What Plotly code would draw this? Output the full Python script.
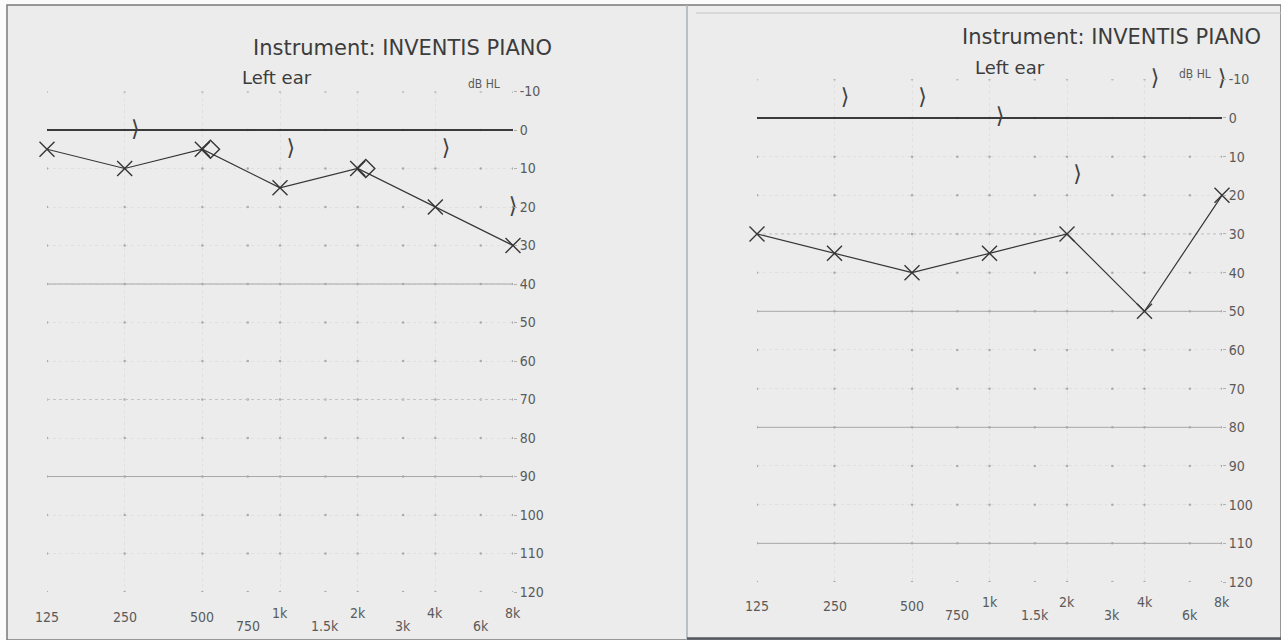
import math
import plotly.graph_objects as go

W, H = 1281, 640

# Audiometric frequencies (Hz) and hearing-level scale (dB HL)
octave_freqs = [125, 250, 500, 1000, 2000, 4000, 8000]
octave_labels = ["125", "250", "500", "1k", "2k", "4k", "8k"]
mid_freqs = [750, 1500, 3000, 6000]
mid_labels = ["750", "1.5k", "3k", "6k"]
db_ticks = list(range(-10, 121, 10))

# First audiogram
p1_air_freq = [125, 250, 500, 1000, 2000, 4000, 8000]
p1_air_db = [5, 10, 5, 15, 10, 20, 30]
p1_diamond_freq = [500, 2000]
p1_diamond_db = [5, 10]
p1_bone_freq = [250, 1000, 4000, 8000]
p1_bone_db = [0, 5, 5, 20]
p1_solid_levels = [40, 90]
p1_dotted_levels = [70]

# Second audiogram
p2_air_freq = [125, 250, 500, 1000, 2000, 4000, 8000]
p2_air_db = [30, 35, 40, 35, 30, 50, 20]
p2_bone_freq = [250, 500, 1000, 2000, 4000, 8000]
p2_bone_db = [-5, -5, 0, 15, -10, -10]
p2_solid_levels = [50, 80, 110]
p2_dotted_levels = [30]

title_text = "Instrument: INVENTIS PIANO"
ear_text = "Left ear"
unit_text = "dB HL"

INK = "#363636"
GRID = "#e0e0e0"
LABEL = "#5a5a5a"
PAPER = "#ececec"

BONE_SHIFT = 1.1      # bone symbols sit just right of the frequency line
DIAMOND_SHIFT = 1.075

# pixel geometry of each panel: x of 125 Hz / 8 kHz, y of -10 / 120 dB
panels = [
    dict(x0=47, x1=513, ytop=91.5, ybot=592, xs="x", ys="y",
         air=(p1_air_freq, p1_air_db), dia=(p1_diamond_freq, p1_diamond_db),
         bone=(p1_bone_freq, p1_bone_db), solid=p1_solid_levels, dotted=p1_dotted_levels,
         title=(402, 48), ear=(277, 78), unit=(484, 84),
         lab_main=617, lab_k=613, lab_mid=626),
    dict(x0=757, x1=1222, ytop=79.3, ybot=582, xs="x2", ys="y2",
         air=(p2_air_freq, p2_air_db), dia=None,
         bone=(p2_bone_freq, p2_bone_db), solid=p2_solid_levels, dotted=p2_dotted_levels,
         title=(1111, 37), ear=(1010, 67), unit=(1195, 74),
         lab_main=606, lab_k=602, lab_mid=615),
]

fig = go.Figure()
annotations = []
shapes = []

# scanned page frame
shapes.append(dict(type="rect", xref="paper", yref="paper", x0=7 / W, x1=1.0,
                   y0=0, y1=1 - 5 / H, fillcolor=PAPER,
                   line=dict(color="#7a7a7a", width=1.5), layer="below"))
shapes.append(dict(type="line", xref="paper", yref="paper", x0=687 / W, x1=687 / W,
                   y0=0, y1=1 - 5 / H, line=dict(color="#a9b1bb", width=1.5), layer="below"))
shapes.append(dict(type="line", xref="paper", yref="paper", x0=696 / W, x1=1.0,
                   y0=1 - 13 / H, y1=1 - 13 / H, line=dict(color="#c4c4c4", width=1), layer="below"))
shapes.append(dict(type="line", xref="paper", yref="paper", x0=687 / W, x1=1.0,
                   y0=1 - 638.5 / H, y1=1 - 638.5 / H, line=dict(color="#555a60", width=2.5), layer="below"))

all_freqs = sorted(octave_freqs + mid_freqs)

for i, p in enumerate(panels):
    xs, ys = p["xs"], p["ys"]
    sfx = "" if i == 0 else "2"

    # intersection dots of the printed grid
    gx, gy = [], []
    for f in all_freqs:
        for d in db_ticks:
            gx.append(f)
            gy.append(d)
    fig.add_trace(go.Scatter(x=gx, y=gy, mode="markers", xaxis=xs, yaxis=ys,
                             marker=dict(size=2.5, color="#ababab"), hoverinfo="skip",
                             showlegend=False))

    # emphasised reference lines
    for lvl in p["solid"]:
        fig.add_trace(go.Scatter(x=[octave_freqs[0], octave_freqs[-1]], y=[lvl, lvl],
                                 mode="lines", xaxis=xs, yaxis=ys,
                                 line=dict(color="#a8a8a8", width=1), hoverinfo="skip",
                                 showlegend=False))
    for lvl in p["dotted"]:
        fig.add_trace(go.Scatter(x=[octave_freqs[0], octave_freqs[-1]], y=[lvl, lvl],
                                 mode="lines", xaxis=xs, yaxis=ys,
                                 line=dict(color="#c4c4c4", width=1, dash="dot"),
                                 hoverinfo="skip", showlegend=False))

    # 0 dB HL reference
    fig.add_trace(go.Scatter(x=[octave_freqs[0], octave_freqs[-1]], y=[0, 0],
                             mode="lines", xaxis=xs, yaxis=ys,
                             line=dict(color="#3a3a3a", width=2), hoverinfo="skip",
                             showlegend=False))

    # air conduction thresholds
    af, ad = p["air"]
    fig.add_trace(go.Scatter(x=af, y=ad, mode="lines+markers", xaxis=xs, yaxis=ys,
                             line=dict(color=INK, width=1.2),
                             marker=dict(symbol="x-thin-open", size=15, color=INK,
                                         line=dict(color=INK, width=1.4)),
                             cliponaxis=False, showlegend=False))

    if p["dia"] is not None:
        df, dd = p["dia"]
        fig.add_trace(go.Scatter(x=[f * DIAMOND_SHIFT for f in df], y=dd, mode="markers",
                                 xaxis=xs, yaxis=ys,
                                 marker=dict(symbol="diamond-open", size=14, color=INK,
                                             line=dict(color=INK, width=1.4)),
                                 cliponaxis=False, showlegend=False))

    # bone conduction thresholds
    bf, bd = p["bone"]
    fig.add_trace(go.Scatter(x=[min(f * BONE_SHIFT, octave_freqs[-1]) for f in bf], y=bd,
                             mode="text", text=["⟩"] * len(bf), xaxis=xs, yaxis=ys,
                             textposition="middle center",
                             textfont=dict(family="DejaVu Sans", size=22, color="#404040"),
                             cliponaxis=False, showlegend=False))

    # frequency labels (annotation x on a log axis is given in log10 units)
    for f, lab in zip(octave_freqs, octave_labels):
        yy = p["lab_k"] if lab.endswith("k") else p["lab_main"]
        annotations.append(dict(x=math.log10(f), y=1 - yy / H, xref=xs, yref="paper", text=lab,
                                showarrow=False, xanchor="center", yanchor="middle",
                                font=dict(family="DejaVu Sans Condensed", size=14, color=LABEL)))
    for f, lab in zip(mid_freqs, mid_labels):
        annotations.append(dict(x=math.log10(f), y=1 - p["lab_mid"] / H, xref=xs, yref="paper",
                                text=lab, showarrow=False, xanchor="center", yanchor="middle",
                                font=dict(family="DejaVu Sans Condensed", size=14, color=LABEL)))

    # headings
    tx, ty = p["title"]
    annotations.append(dict(x=tx / W, y=1 - ty / H, xref="paper", yref="paper", text=title_text,
                            showarrow=False, xanchor="center", yanchor="middle",
                            font=dict(family="DejaVu Sans", size=21, color="#3c3c3c")))
    ex, ey = p["ear"]
    annotations.append(dict(x=ex / W, y=1 - ey / H, xref="paper", yref="paper", text=ear_text,
                            showarrow=False, xanchor="center", yanchor="middle",
                            font=dict(family="DejaVu Sans", size=18, color="#3c3c3c")))
    ux, uy = p["unit"]
    annotations.append(dict(x=ux / W, y=1 - uy / H, xref="paper", yref="paper", text=unit_text,
                            showarrow=False, xanchor="center", yanchor="middle",
                            font=dict(family="DejaVu Sans Condensed", size=12, color=LABEL)))

    xaxis = dict(type="log", domain=[p["x0"] / W, p["x1"] / W],
                 range=[math.log10(octave_freqs[0]), math.log10(octave_freqs[-1])],
                 tickvals=octave_freqs, showticklabels=False, ticks="",
                 showgrid=True, gridcolor=GRID, gridwidth=1, griddash="dot",
                 zeroline=False, showline=False, anchor=ys, automargin=False)
    yaxis = dict(domain=[1 - p["ybot"] / H, 1 - p["ytop"] / H], range=[120, -10],
                 tickvals=db_ticks, ticktext=[str(d) for d in db_ticks], side="right",
                 ticks="outside", ticklen=3, tickcolor="#b0b0b0",
                 tickfont=dict(family="DejaVu Sans Condensed", size=14, color=LABEL),
                 showgrid=True, gridcolor=GRID, gridwidth=1, griddash="dot",
                 zeroline=False, showline=False, anchor=xs, automargin=False)
    fig.update_layout(**{"xaxis" + sfx: xaxis, "yaxis" + sfx: yaxis})

fig.update_layout(width=W, height=H, margin=dict(l=0, r=0, t=0, b=0, pad=0, autoexpand=False),
                  paper_bgcolor="#fbfbfb", plot_bgcolor="rgba(0,0,0,0)",
                  annotations=annotations, shapes=shapes, showlegend=False)

fig.write_html("out.html")
